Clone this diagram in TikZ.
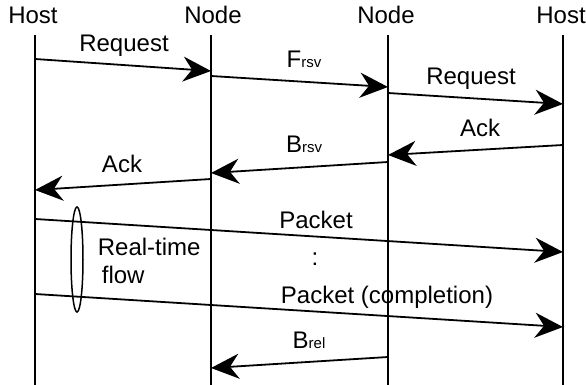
\documentclass[tikz,border=0pt]{standalone}
\usepackage{fontspec}
\setmainfont{Liberation Sans}
\usetikzlibrary{arrows.meta, positioning}

\newcommand{\lowsub}[1]{{\fontsize{15}{15}\selectfont #1}}

\begin{document}
\begin{tikzpicture}[x=1pt, y=-1pt, >={Stealth[length=28pt, width=25pt, inset=9pt]}, line width=1.8pt]
    % Styles
    \tikzstyle{head} = [font=\fontsize{24}{28}\selectfont, inner sep=0pt, anchor=base]
    \tikzstyle{lbl} = [font=\fontsize{24}{28}\selectfont, inner sep=0pt, anchor=base]
    \tikzstyle{life} = [draw, line width=1.8pt]
    \tikzstyle{msg} = [draw, ->, line width=1.8pt]

    \useasboundingbox (0,0) rectangle (586,385);

    % Nodes
    \node [head] (hostA) at (33,24) {Host};
    \node [head] (nodeA) at (213,24) {Node};
    \node [head] (nodeB) at (386,24) {Node};
    \node [head] (hostB) at (561,24) {Host};

    % Lifelines
    \coordinate (lifeA) at (35,35);
    \coordinate (lifeB) at (211,35);
    \coordinate (lifeC) at (388,35);
    \coordinate (lifeD) at (563,35);
    \draw [life] (lifeA) -- (lifeA |- 0,385);
    \draw [life] (lifeB) -- (lifeB |- 0,385);
    \draw [life] (lifeC) -- (lifeC |- 0,385);
    \draw [life] (lifeD) -- (lifeD |- 0,385);

    % Reservation
    \draw [msg] (lifeA |- 0,59) -- (lifeB |- 0,71);
    \draw [msg] (lifeB |- 0,76) -- (lifeC |- 0,87);
    \draw [msg] (lifeC |- 0,93) -- (lifeD |- 0,104);
    \draw [msg] (lifeD |- 0,145) -- (lifeC |- 0,155);
    \draw [msg] (lifeC |- 0,162) -- (lifeB |- 0,173);
    \draw [msg] (lifeB |- 0,179) -- (lifeA |- 0,190);

    \node [lbl] (reqA) at (124,52) {Request};
    \node [lbl] (frsv) at (304,68) {F\lowsub{rsv}};
    \node [lbl] (reqB) at (471,85) {Request};
    \node [lbl] (ackB) at (480,137) {Ack};
    \node [lbl] (brsv) at (304,153) {B\lowsub{rsv}};
    \node [lbl] (ackA) at (122,172) {Ack};

    % Data packets
    \draw [msg] (lifeA |- 0,219) -- (lifeD |- 0,252);
    \draw [msg] (lifeA |- 0,294) -- (lifeD |- 0,327);
    \node [lbl] (pktA) at (316,228) {Packet};
    \node [lbl] (dots) at (315,265) {:};
    \node [lbl] (pktB) at (387,303) {Packet (completion)};

    \draw [line width=1.5pt] (77,259.5) ellipse [x radius=6, y radius=52.5];
    \node [lbl, anchor=base west, align=left] (flow) at (97,283) {Real-time\\\hspace*{4pt}flow};

    % Release
    \draw [msg] (lifeC |- 0,357) -- (lifeB |- 0,368);
    \node [lbl] (brel) at (309,348) {B\lowsub{rel}};
\end{tikzpicture}
\end{document}
